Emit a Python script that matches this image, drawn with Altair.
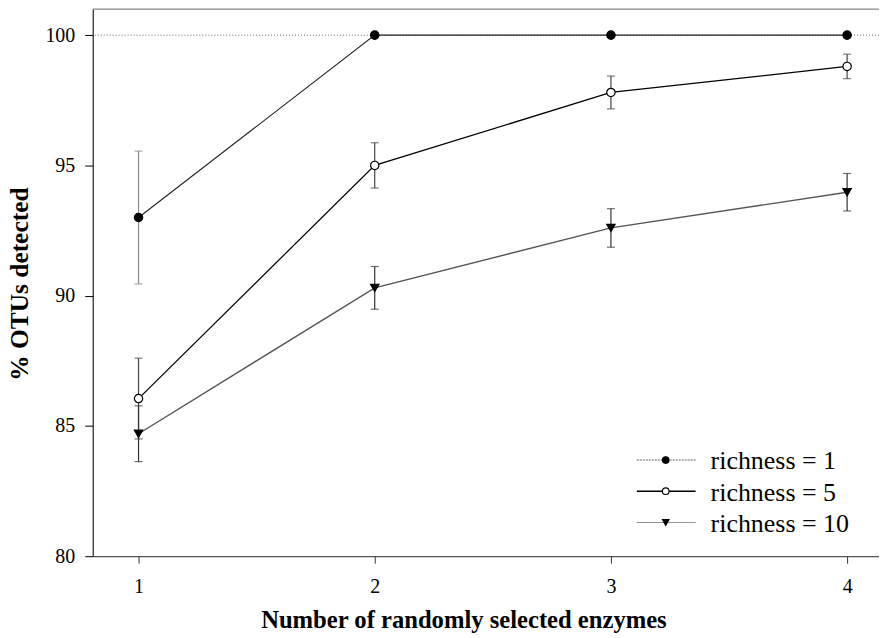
import altair as alt
import pandas as pd

# ---- data ----
enzymes = [1, 2, 3, 4]
series_names = ["richness = 1", "richness = 5", "richness = 10"]
mean_r1 = [93.0, 100.0, 100.0, 100.0]
err_r1 = [2.55, 0.0, 0.0, 0.0]
mean_r5 = [86.05, 95.0, 97.8, 98.8]
err_r5 = [1.55, 0.87, 0.63, 0.47]
mean_r10 = [84.7, 90.3, 92.6, 93.97]
err_r10 = [1.07, 0.82, 0.74, 0.72]
y_ticks = [80, 85, 90, 95, 100]
x_ticks = [1, 2, 3, 4]

rows = []
for name, means, errs in zip(series_names, [mean_r1, mean_r5, mean_r10], [err_r1, err_r5, err_r10]):
    for x, m, e in zip(enzymes, means, errs):
        rows.append({"series": name, "x": x, "mean": m, "lo": m - e, "hi": m + e, "err": e})
df = pd.DataFrame(rows)
df_err = df[df["err"] > 0]

W, H = 789, 549
FONT = "Liberation Serif"

line_colors = ["#222222", "#000000", "#555555"]
line_widths = [1.1, 1.4, 1.0]
whisker_colors = ["#888888", "#444444", "#333333"]
shapes = ["circle", "circle", "triangle-down"]
fills = ["#000000", "#ffffff", "#000000"]
legend_dash = [[2, 1], [1, 0], [1, 0]]
legend_line_colors = ["#666666", "#000000", "#777777"]

xscale = alt.Scale(domain=[0.806, 4.135], nice=False, zero=False)
yscale = alt.Scale(domain=[80, 101], nice=False, zero=False)

xaxis = alt.Axis(values=x_ticks, title="Number of randomly selected enzymes", grid=False,
                 tickSize=7, labelPadding=13, labelFontSize=20, labelFont=FONT,
                 titleFont=FONT, titleFontSize=24.7, titleFontWeight="bold",
                 titleX=372, titleY=72, titleAlign="center", titleBaseline="alphabetic",
                 domainColor="#333333", tickColor="#333333", labelColor="#000000",
                 format="d")
yaxis = alt.Axis(values=y_ticks, title="% OTUs detected", grid=False,
                 tickSize=8, labelPadding=10, labelFontSize=20, labelFont=FONT,
                 titleFont=FONT, titleFontSize=25.5, titleFontWeight="bold",
                 titleX=-65, titleY=275.5, titleAngle=270, titleAlign="center",
                 titleBaseline="alphabetic",
                 domainColor="#000000", tickColor="#000000", labelColor="#000000")

base = alt.Chart(df)

ref = alt.Chart(pd.DataFrame({"v": [100]})).mark_rule(
    strokeDash=[1, 2], color="#666666", strokeWidth=1
).encode(y=alt.Y("v:Q", scale=yscale, axis=yaxis))

top = alt.Chart(pd.DataFrame({"v": [0]})).mark_rule(color="#777777", strokeWidth=1).encode(
    x=alt.value(0), x2=alt.value(W), y=alt.value(0)
)

wcol = alt.Color("series:N", scale=alt.Scale(domain=series_names, range=whisker_colors), legend=None)

whisk = alt.Chart(df_err).mark_rule(strokeWidth=1.2).encode(
    x=alt.X("x:Q", scale=xscale, axis=xaxis),
    y=alt.Y("lo:Q", scale=yscale, axis=yaxis),
    y2="hi:Q",
    color=wcol,
)
cap_lo = alt.Chart(df_err).mark_tick(orient="horizontal", size=8, thickness=1.2).encode(
    x=alt.X("x:Q", scale=xscale), y=alt.Y("lo:Q", scale=yscale), color=wcol
)
cap_hi = alt.Chart(df_err).mark_tick(orient="horizontal", size=8, thickness=1.2).encode(
    x=alt.X("x:Q", scale=xscale), y=alt.Y("hi:Q", scale=yscale), color=wcol
)

lines = base.mark_line().encode(
    x=alt.X("x:Q", scale=xscale, axis=xaxis),
    y=alt.Y("mean:Q", scale=yscale, axis=yaxis),
    detail="series:N",
    stroke=alt.Stroke("series:N", scale=alt.Scale(domain=series_names, range=line_colors), legend=None),
    strokeWidth=alt.StrokeWidth("series:N", scale=alt.Scale(domain=series_names, range=line_widths), legend=None),
)

pts = base.mark_point(filled=False, size=70, stroke="#000000", strokeWidth=1.2, opacity=1).encode(
    x=alt.X("x:Q", scale=xscale),
    y=alt.Y("mean:Q", scale=yscale),
    shape=alt.Shape("series:N", scale=alt.Scale(domain=series_names, range=shapes), legend=None),
    fill=alt.Fill("series:N", scale=alt.Scale(domain=series_names, range=fills), legend=None),
)

layers = [ref, top, whisk, cap_lo, cap_hi, lines, pts]

# manual legend (pixel positions inside the plot area)
legend_y = [452.5, 483.8, 515.2]
for i, name in enumerate(series_names):
    ly = legend_y[i]
    one = pd.DataFrame({"label": [name]})
    layers.append(alt.Chart(one).mark_rule(color=legend_line_colors[i], strokeWidth=line_widths[i],
                                           strokeDash=legend_dash[i]).encode(
        x=alt.value(546), x2=alt.value(605), y=alt.value(ly)))
    layers.append(alt.Chart(one).mark_point(shape=shapes[i], size=44, fill=fills[i], filled=True,
                                            stroke="#000000", strokeWidth=1.1, opacity=1).encode(
        x=alt.value(575), y=alt.value(ly)))
    layers.append(alt.Chart(one).mark_text(align="left", baseline="alphabetic",
                                           font="Liberation Serif, Times New Roman, serif",
                                           fontSize=26, color="#000000").encode(
        x=alt.value(620), y=alt.value(ly + 9.5), text="label:N"))

chart = alt.layer(*layers).properties(
    width=W, height=H,
    autosize=alt.AutoSizeParams(type="none"),
    padding={"left": 85, "top": 0, "right": 0, "bottom": 80},
).configure_view(strokeWidth=0).configure_text(
    font="Liberation Serif, Times New Roman, serif"
).configure(background="white")

chart.save("out.html", embed_options={"renderer": "svg", "actions": False})
